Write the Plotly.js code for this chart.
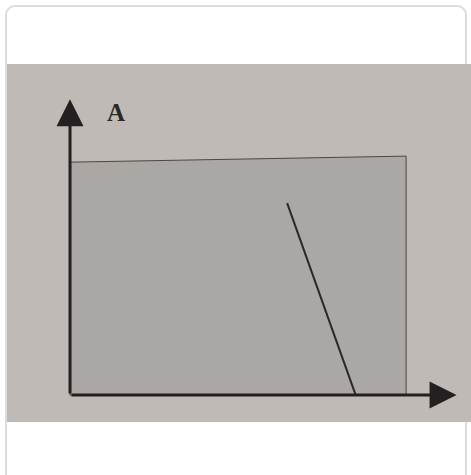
<!DOCTYPE html>
<html>
<head>
<meta charset="utf-8">
<script src="https://cdn.plot.ly/plotly-3.0.1.min.js"></script>
<style>
  html, body { margin: 0; padding: 0; background: #ffffff; }
  #card {
    position: absolute; left: 5px; top: 5px; width: 462px; height: 490px;
    border: 2px solid #dcdcdc; border-radius: 10px; box-sizing: border-box;
  }
  #chart { position: absolute; left: 0; top: 0; width: 471px; height: 475px; }
</style>
</head>
<body>
<div id="card"></div>
<div id="chart"></div>
<script>
// shaded area (corners)
let areaX = [0, 0, 10, 10, 0];
let areaY = [0, 6.93, 7.11, 0, 0];

// the sloping line inside the area
let lineX = [6.46, 8.5];
let lineY = [5.71, 0];

// axis ends
let xAxisEnd = 11.5;
let yAxisEnd = 8.8;
let yLabel = 'A';

let traces = [
    {
        type: 'scatter',
        mode: 'lines',
        x: areaX,
        y: areaY,
        fill: 'toself',
        fillcolor: '#aaa7a4',
        line: { color: '#4a4744', width: 1 },
        hoverinfo: 'skip'
    },
    {
        type: 'scatter',
        mode: 'lines',
        x: lineX,
        y: lineY,
        line: { color: '#2b2927', width: 2 },
        hoverinfo: 'skip'
    }
];

let layout = {
    width: 471,
    height: 475,
    margin: { l: 7, r: 0, t: 64, b: 53 },
    paper_bgcolor: 'rgba(0,0,0,0)',
    plot_bgcolor: '#bfbab5',
    showlegend: false,
    xaxis: {
        range: [-1.875, 11.93],
        showgrid: false, zeroline: false, showticklabels: false,
        ticks: '', showline: false, fixedrange: true
    },
    yaxis: {
        range: [-0.80, 9.85],
        showgrid: false, zeroline: false, showticklabels: false,
        ticks: '', showline: false, fixedrange: true
    },
    annotations: [
        {
            x: xAxisEnd, y: 0, ax: 0, ay: 0,
            xref: 'x', yref: 'y', axref: 'x', ayref: 'y',
            showarrow: true, arrowhead: 2, arrowsize: 1.8, arrowwidth: 3,
            arrowcolor: '#222020', text: ''
        },
        {
            x: 0, y: yAxisEnd, ax: 0, ay: 0,
            xref: 'x', yref: 'y', axref: 'x', ayref: 'y',
            showarrow: true, arrowhead: 2, arrowsize: 1.8, arrowwidth: 3,
            arrowcolor: '#222020', text: ''
        },
        {
            x: 1.37, y: 8.4, xref: 'x', yref: 'y',
            text: '<b>' + yLabel + '</b>', showarrow: false,
            font: { family: 'Liberation Serif, serif', size: 25, color: '#2a2826' }
        }
    ]
};

Plotly.newPlot('chart', traces, layout, { displayModeBar: false, staticPlot: true });
</script>
</body>
</html>
